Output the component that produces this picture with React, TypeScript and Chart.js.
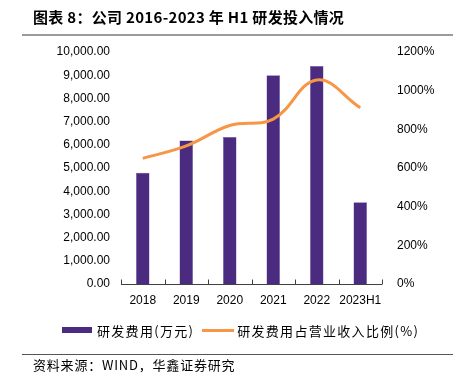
import React, { useEffect, useRef } from "react";
import { Chart, registerables } from "chart.js";

Chart.register(...registerables);

const categories = ["2018", "2019", "2020", "2021", "2022", "2023H1"];
const rdExpense = [4800, 6190, 6340, 9000, 9400, 3520];
const rdRatio = [650, 714, 820, 853, 1055, 912];
const leftTicks = [0, 1000, 2000, 3000, 4000, 5000, 6000, 7000, 8000, 9000, 10000];
const rightTicks = [0, 200, 400, 600, 800, 1000, 1200];

const titleText = "图表 8：公司 2016-2023 年 H1 研发投入情况";
const sourceText = "资料来源：WIND，华鑫证券研究";
const barLabel = "研发费用(万元)";
const lineLabel = "研发费用占营业收入比例(%)";

const PURPLE = "#4B2B7F";
const ORANGE = "#F79646";
const TICK_FONT = { family: "'Liberation Sans', Arial, sans-serif", size: 12 };
const CJK = "'Noto Sans CJK SC', sans-serif";

const axisPlugin = {
  id: "axisTicks",
  afterDraw(chart: any) {
    const { ctx, chartArea, scales } = chart;
    const x = scales.x;
    const n = categories.length;
    const step = (chartArea.right - chartArea.left) / n;
    ctx.save();
    ctx.strokeStyle = "#404040";
    ctx.lineWidth = 1;
    const y = Math.round(chartArea.bottom) + 0.5;
    ctx.beginPath();
    ctx.moveTo(chartArea.left, y);
    ctx.lineTo(chartArea.right, y);
    for (let i = 0; i <= n; i++) {
      const px = Math.round(x.left + step * i) + 0.5;
      ctx.moveTo(px, y);
      ctx.lineTo(px, y - 5);
    }
    ctx.stroke();
    ctx.restore();
  },
};

export default function App() {
  const ref = useRef<HTMLCanvasElement | null>(null);
  useEffect(() => {
    if (!ref.current) return;
    const chart = new Chart(ref.current, {
      type: "bar",
      data: {
        labels: categories,
        datasets: [
          {
            type: "line",
            label: lineLabel,
            data: rdRatio,
            yAxisID: "y1",
            borderColor: ORANGE,
            backgroundColor: ORANGE,
            borderWidth: 3,
            pointRadius: 0,
            tension: 0.4,
            order: 0,
          } as any,
          {
            type: "bar",
            label: barLabel,
            data: rdExpense,
            yAxisID: "y",
            backgroundColor: PURPLE,
            borderColor: "#6A55A0",
            borderWidth: 0.5,
            barPercentage: 0.31,
            categoryPercentage: 1,
            order: 1,
          },
        ],
      },
      options: {
        animation: false,
        responsive: false,
        maintainAspectRatio: false,
        layout: { padding: { top: 52, left: 0, right: 0, bottom: 0 } },
        plugins: { legend: { display: false }, tooltip: { enabled: false } },
        scales: {
          x: {
            grid: { display: false, drawTicks: false },
            border: { display: false },
            ticks: { color: "#000", font: TICK_FONT, padding: 9, maxRotation: 0, autoSkip: false },
            afterFit: (s: any) => {
              s.height = 96;
            },
          },
          y: {
            position: "left",
            min: 0,
            max: 10000,
            afterBuildTicks: (s: any) => {
              s.ticks = leftTicks.map((v) => ({ value: v }));
            },
            grid: { display: false, drawTicks: false },
            border: { display: false },
            ticks: {
              color: "#000",
              font: TICK_FONT,
              padding: 11,
              callback: (v: any) =>
                Number(v).toLocaleString("en-US", { minimumFractionDigits: 2, maximumFractionDigits: 2 }),
            },
            afterFit: (s: any) => {
              s.width = 121;
            },
          },
          y1: {
            position: "right",
            min: 0,
            max: 1200,
            afterBuildTicks: (s: any) => {
              s.ticks = rightTicks.map((v) => ({ value: v }));
            },
            grid: { display: false, drawTicks: false },
            border: { display: false },
            ticks: { color: "#000", font: TICK_FONT, padding: 15, callback: (v: any) => v + "%" },
            afterFit: (s: any) => {
              s.width = 78;
            },
          },
        },
      },
      plugins: [axisPlugin],
    });
    return () => chart.destroy();
  }, []);

  return (
    <div style={{ position: "absolute", left: 0, top: 0, width: 460, height: 380, background: "#fff", overflow: "hidden" }}>
      <canvas ref={ref} width={460} height={380} style={{ position: "absolute", left: 0, top: 0 }} />
      <div
        style={{
          position: "absolute",
          left: 33,
          top: 7,
          fontFamily: CJK,
          fontWeight: 700,
          fontSize: 15,
          lineHeight: "20px",
          letterSpacing: "0.3px",
          color: "#000",
          whiteSpace: "nowrap",
        }}
      >
        {titleText}
      </div>
      <div style={{ position: "absolute", left: 22, top: 34, width: 431, height: 2, background: "#9A9A9A" }} />
      <div
        style={{
          position: "absolute",
          left: 0,
          top: 321,
          height: 18,
          display: "flex",
          alignItems: "center",
          fontFamily: CJK,
          fontSize: 13,
          letterSpacing: "1.3px",
          color: "#000",
          whiteSpace: "nowrap",
        }}
      >
        <span style={{ display: "inline-block", marginLeft: 62, width: 30, height: 6, background: PURPLE }} />
        <span style={{ marginLeft: 5 }}>{barLabel}</span>
        <span style={{ display: "inline-block", marginLeft: 8, width: 32, height: 3, background: ORANGE }} />
        <span style={{ marginLeft: 3 }}>{lineLabel}</span>
      </div>
      <div style={{ position: "absolute", left: 22, top: 354, width: 431, height: 1, background: "#555" }} />
      <div
        style={{
          position: "absolute",
          left: 33,
          top: 356,
          fontFamily: CJK,
          fontSize: 13,
          lineHeight: "18px",
          letterSpacing: "0.8px",
          color: "#000",
          whiteSpace: "nowrap",
        }}
      >
        {sourceText}
      </div>
    </div>
  );
}
